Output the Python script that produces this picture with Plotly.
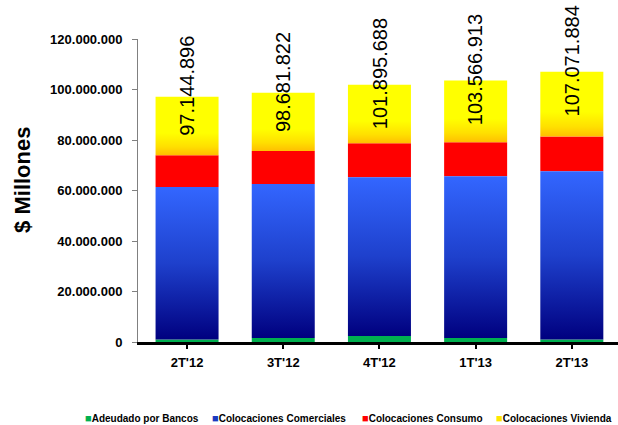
import plotly.graph_objects as go

# Quarterly loan portfolio (pesos), stacked by segment
periodos = ["2T'12", "3T'12", "4T'12", "1T'13", "2T'13"]
adeudado_bancos = [1_000_000, 1_600_000, 2_400_000, 1_600_000, 1_000_000]
colocaciones_comerciales = [60_400_000, 61_000_000, 62_800_000, 64_000_000, 66_600_000]
colocaciones_consumo = [12_600_000, 13_000_000, 13_500_000, 13_500_000, 13_800_000]
colocaciones_vivienda = [23_145_000, 23_080_000, 23_195_000, 24_465_000, 25_670_000]
totales = [97_144_896, 98_681_822, 101_895_688, 103_566_913, 107_071_884]
y_ticks = [0, 20_000_000, 40_000_000, 60_000_000, 80_000_000, 100_000_000, 120_000_000]

FONT = "Liberation Sans, Arial, sans-serif"
BAR_W = 0.655
GREEN = "#00B050"
RED = "#FF0000"
BLUE_SCALE = [[0, "#00007F"], [0.5, "#1E40CC"], [1, "#3366FF"]]
YELLOW_SCALE = [[0, "#FFBF00"], [0.15, "#FFE000"], [0.38, "#FFFF00"], [1, "#FFFF00"]]

xs = list(range(len(periodos)))
fig = go.Figure()

# Solid segment: interbank
fig.add_trace(go.Bar(x=xs, y=adeudado_bancos, base=[0] * len(xs), width=BAR_W,
                     marker=dict(color=GREEN, line=dict(width=0)),
                     name="Adeudado por Bancos", showlegend=False))


def gradient_block(x, bottom, top, scale, name):
    """Vertical-gradient segment spanning [bottom, top] at category x."""
    h = BAR_W / 2
    return go.Scatter(x=[x - h, x + h, x + h, x - h, x - h],
                      y=[bottom, bottom, top, top, bottom],
                      mode="lines", fill="toself", line=dict(width=0),
                      fillgradient=dict(type="vertical", colorscale=scale),
                      name=name, showlegend=False, hoverinfo="skip")


# Commercial loans with navy-to-blue gradient
for i in xs:
    b = adeudado_bancos[i]
    fig.add_trace(gradient_block(i, b, b + colocaciones_comerciales[i], BLUE_SCALE,
                                 "Colocaciones Comerciales"))

# Consumer loans, solid red
base_consumo = [adeudado_bancos[i] + colocaciones_comerciales[i] for i in xs]
fig.add_trace(go.Bar(x=xs, y=colocaciones_consumo, base=base_consumo, width=BAR_W,
                     marker=dict(color=RED, line=dict(width=0)),
                     name="Colocaciones Consumo", showlegend=False))

# Mortgage loans with orange-to-yellow gradient
for i in xs:
    b = base_consumo[i] + colocaciones_consumo[i]
    fig.add_trace(gradient_block(i, b, b + colocaciones_vivienda[i], YELLOW_SCALE,
                                 "Colocaciones Vivienda"))

annotations = []
# Totals written vertically above each bar
for i in xs:
    annotations.append(dict(x=i, y=totales[i], xref="x", yref="y",
                            text=f"{totales[i]:,}".replace(",", "."),
                            textangle=-90, showarrow=False,
                            xanchor="center", yanchor="middle", yshift=11,
                            font=dict(family=FONT, size=20, color="black")))

# Axis title
annotations.append(dict(x=-0.2396, y=0.535, xref="paper", yref="paper",
                        text="<b>$ Millones</b>", textangle=-90, showarrow=False,
                        xanchor="center", yanchor="middle",
                        font=dict(family=FONT, size=22, color="black")))

# Legend row
legend_items = [
    ("Adeudado por Bancos", GREEN, 85),
    ("Colocaciones Comerciales", "#1A3AC0", 212),
    ("Colocaciones Consumo", RED, 362),
    ("Colocaciones Vivienda", "#FFE800", 496),
]
for label, color, px in legend_items:
    annotations.append(dict(
        x=(px - 138) / 480, y=-0.252, xref="paper", yref="paper",
        text=f"<span style='color:{color};font-size:11px'>■</span><b>{label}</b>",
        showarrow=False, xanchor="left", yanchor="middle", xshift=-2,
        font=dict(family=FONT, size=10, color="black")))

fig.update_layout(
    width=618, height=425,
    margin=dict(l=138, r=0, t=39, b=82.5),
    paper_bgcolor="white", plot_bgcolor="white",
    barmode="overlay", separators=",.",
    showlegend=False,
    annotations=annotations,
    font=dict(family=FONT, color="black"),
)
fig.update_xaxes(
    range=[-0.51, 4.48], tickvals=xs, ticktext=[f"<b>{p}</b>" for p in periodos],
    showline=True, linecolor="black", linewidth=2.5,
    ticks="outside", ticklen=4, tickwidth=1.5, tickcolor="black",
    tickfont=dict(family=FONT, size=13, color="black"),
    ticklabelstandoff=3,
    showgrid=False, zeroline=False, fixedrange=True,
)
fig.update_yaxes(
    range=[0, 120_000_000], tickvals=y_ticks,
    ticktext=[f"<b>{v:,}</b>".replace(",", ".") for v in y_ticks],
    showline=True, linecolor="#808080", linewidth=1,
    ticks="outside", ticklen=5, tickwidth=1, tickcolor="#808080",
    tickfont=dict(family=FONT, size=13, color="black"),
    ticklabelstandoff=7,
    showgrid=False, zeroline=False, fixedrange=True,
)

fig.write_html("out.html")
